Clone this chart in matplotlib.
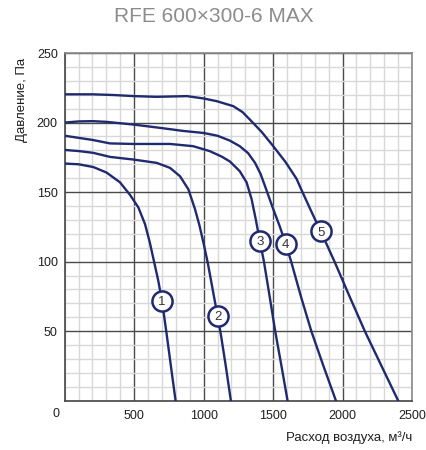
import matplotlib
matplotlib.use("Agg")
import matplotlib.pyplot as plt
from matplotlib.ticker import MultipleLocator

plt.rcParams['font.family'] = ['Liberation Sans', 'DejaVu Sans']

title = "RFE 600×300-6 MAX"
x_label = "Расход воздуха, м³/ч"
y_label = "Давление, Па"

x_ticks = [500, 1000, 1500, 2000, 2500]
y_ticks = [50, 100, 150, 200, 250]

c1_x = [0, 100, 206, 302, 398, 470, 530, 578, 612, 642, 672, 700, 735, 767, 798]
c1_y = [170.5, 170, 168, 164, 157, 148, 139, 127, 114, 100.5, 87, 72, 47, 23, 0]

c2_x = [0, 100, 206, 326, 494, 662, 758, 830, 890, 937, 970, 1000, 1030, 1065, 1100, 1125, 1160, 1196]
c2_y = [180.3, 179.5, 178.2, 175.3, 173.4, 171, 167.4, 161.4, 152, 138, 126, 113, 99, 80, 61, 47, 24.5, 0]

c3_x = [0, 100, 200, 326, 494, 758, 925, 1045, 1130, 1189, 1260, 1309, 1345, 1376, 1404, 1434, 1475, 1515, 1560, 1604]
c3_y = [190.5, 189, 187.5, 185, 184.6, 184.6, 183, 179.4, 175.5, 172, 165, 157, 145, 130, 115, 100, 75, 50, 25, 0]

c4_x = [0, 100, 200, 300, 400, 500, 700, 850, 1000, 1100, 1189, 1260, 1320, 1370, 1410, 1450, 1500, 1549, 1590, 1630, 1700, 1775, 1862, 1952]
c4_y = [200, 200.8, 201, 200.5, 199.5, 198.5, 196, 194, 192.5, 190.5, 187, 183, 178, 171, 163, 152, 138, 125, 113, 100, 75, 50, 25, 0]

c5_x = [0, 200, 350, 500, 660, 880, 1000, 1093, 1213, 1280, 1334, 1420, 1501, 1590, 1669, 1700, 1725, 1780, 1842, 1942, 2050, 2160, 2280, 2400]
c5_y = [220.3, 220.3, 219.8, 219, 218.5, 219, 217.3, 215.4, 211.8, 207.5, 202, 193, 183, 171.5, 159.5, 152.5, 147, 135, 122, 100, 75, 50, 25, 0]

labels = ["1", "2", "3", "4", "5"]
label_x = [700, 1100, 1404, 1590, 1842]
label_y = [72, 61, 115, 113, 122]

curves = [(c1_x, c1_y), (c2_x, c2_y), (c3_x, c3_y), (c4_x, c4_y), (c5_x, c5_y)]

navy = '#202a6e'

fig = plt.figure(figsize=(4.27, 4.5), dpi=100)
ax = fig.add_axes([0.1515, 0.1096, 0.8135, 0.7726])

ax.set_xlim(0, 2500)
ax.set_ylim(0, 250)
ax.xaxis.set_minor_locator(MultipleLocator(100))
ax.yaxis.set_minor_locator(MultipleLocator(10))
ax.set_xticks(x_ticks)
ax.set_yticks(y_ticks)
ax.grid(which='minor', color='#d8d8d8', linewidth=1.0, zorder=0)
ax.grid(which='major', color='#4a4a4a', linewidth=1.0, zorder=1)
ax.set_axisbelow(True)
ax.tick_params(which='both', length=0)
ax.tick_params(axis='x', pad=7, labelsize=9, labelcolor='#1e1e1e')
ax.tick_params(axis='y', pad=5, labelsize=9, labelcolor='#1e1e1e')

for side in ['left', 'bottom']:
    ax.spines[side].set_color('#444444')
    ax.spines[side].set_linewidth(1.2)
for side in ['top', 'right']:
    ax.spines[side].set_color('#8a8a8a')
    ax.spines[side].set_linewidth(1.2)

for (cx, cy) in curves:
    ax.plot(cx, cy, color=navy, linewidth=1.7, zorder=3, solid_joinstyle='round')

for lab, lx, ly in zip(labels, label_x, label_y):
    ax.plot([lx], [ly], marker='o', markersize=14.5, markerfacecolor='white',
            markeredgecolor=navy, markeredgewidth=1.8, zorder=4, linestyle='none')
    ax.text(lx, ly, lab, ha='center', va='center_baseline', fontsize=9.5, color='#333333', zorder=5)

# "0" label at the origin corner
ax.annotate("0", xy=(0, 0), xycoords='data', xytext=(-9, -13.5), textcoords='offset pixels',
            ha='center', va='center', fontsize=9, color='#1e1e1e', annotation_clip=False)

fig.text(0.5, 0.964, title, ha='center', va='center', fontsize=15, color='#8c8c8c')
fig.text(0.0515, 0.778, y_label, rotation=90, ha='center', va='center', fontsize=9.5, color='#1e1e1e')
fig.text(412 / 427, 1 - 438 / 450, x_label, ha='right', va='center', fontsize=9.5, color='#1e1e1e')

fig.savefig('out.png', dpi=100)
